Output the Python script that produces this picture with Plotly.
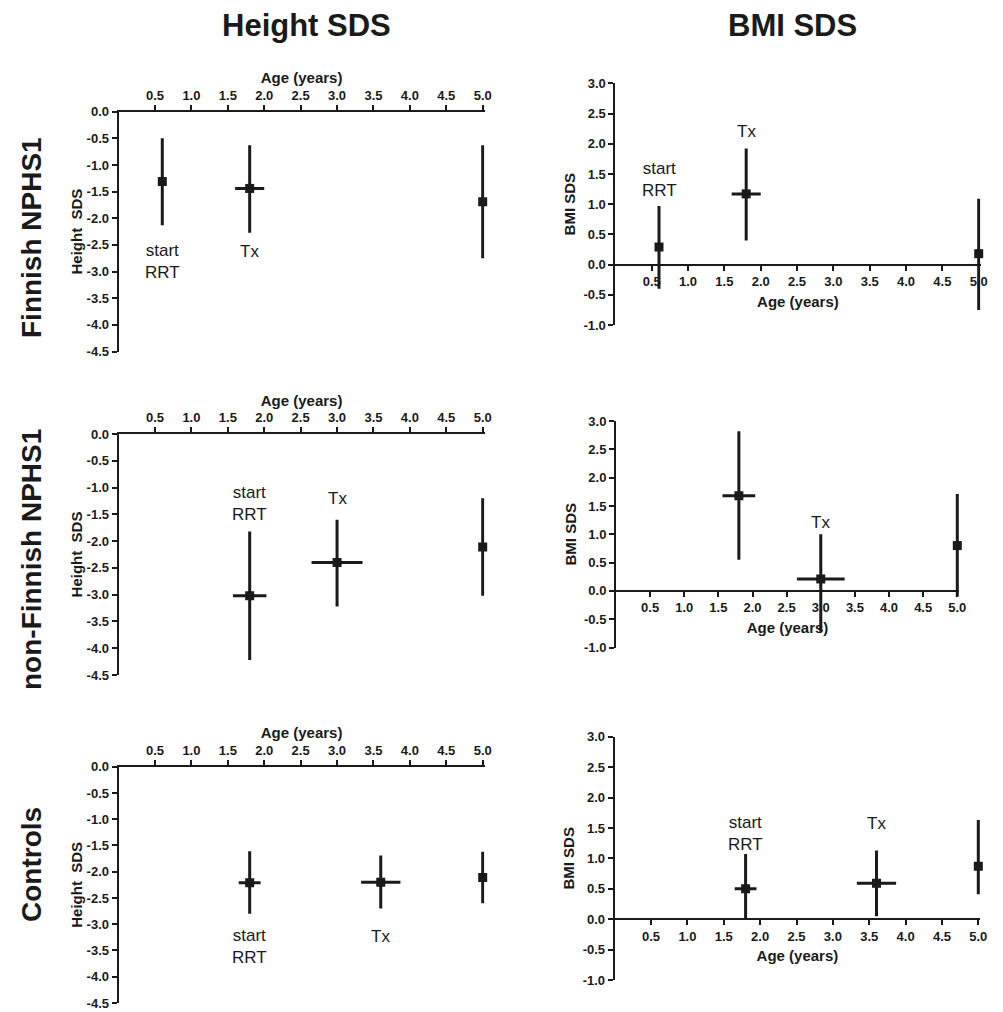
import plotly.graph_objects as go

REF_W, REF_H = 1003, 1012
OFF = 8  # default page body margin
W, H = REF_W - OFF, REF_H - OFF
FONT = "Liberation Sans, Arial, Helvetica, sans-serif"
INK = "#1a1a1a"

# ---------------- data ----------------
row_names = ["Finnish NPHS1", "non-Finnish NPHS1", "Controls"]
col_names = ["Height SDS", "BMI SDS"]
point_labels = ["start<br>RRT", "Tx"]

ages_finnish = [0.6, 1.8, 5.0]
ages_nonfinnish = [1.8, 3.0, 5.0]
ages_controls = [1.8, 3.6, 5.0]

age_sd_finnish = [0.0, 0.2, 0.0]
age_sd_nonfinnish_h = [0.23, 0.35, 0.0]
age_sd_nonfinnish_b = [0.24, 0.35, 0.0]
age_sd_controls = [0.15, 0.27, 0.0]

height_finnish_mean = [-1.31, -1.44, -1.69]
height_finnish_upper = [-0.50, -0.63, -0.63]
height_finnish_lower = [-2.13, -2.27, -2.75]

bmi_finnish_mean = [0.29, 1.17, 0.18]
bmi_finnish_upper = [0.97, 1.92, 1.09]
bmi_finnish_lower = [-0.40, 0.40, -0.75]

height_nonfinnish_mean = [-3.02, -2.40, -2.11]
height_nonfinnish_upper = [-1.82, -1.60, -1.20]
height_nonfinnish_lower = [-4.22, -3.22, -3.02]

bmi_nonfinnish_mean = [1.68, 0.21, 0.80]
bmi_nonfinnish_upper = [2.82, 1.00, 1.71]
bmi_nonfinnish_lower = [0.55, -0.72, -0.10]

height_controls_mean = [-2.21, -2.20, -2.11]
height_controls_upper = [-1.61, -1.69, -1.62]
height_controls_lower = [-2.80, -2.70, -2.60]

bmi_controls_mean = [0.50, 0.59, 0.87]
bmi_controls_upper = [1.07, 1.13, 1.63]
bmi_controls_lower = [0.00, 0.05, 0.41]

age_tickvals = [0.5, 1.0, 1.5, 2.0, 2.5, 3.0, 3.5, 4.0, 4.5, 5.0]
age_ticktext = ["0.5", "1.0", "1.5", "2.0", "2.5", "3.0", "3.5", "4.0", "4.5", "5.0"]
height_tickvals = [0.0, -0.5, -1.0, -1.5, -2.0, -2.5, -3.0, -3.5, -4.0, -4.5]
height_ticktext = ["0.0", "-0.5", "-1.0", "-1.5", "-2.0", "-2.5", "-3.0", "-3.5", "-4.0", "-4.5"]
bmi_tickvals = [3.0, 2.5, 2.0, 1.5, 1.0, 0.5, 0.0, -0.5, -1.0]
bmi_ticktext = ["3.0", "2.5", "2.0", "1.5", "1.0", "0.5", "0.0", "-0.5", "-1.0"]

AGE_MAX = 5.0
AGE_PAD = 0.025  # room so the bars at 5.0 are not clipped

# ---------------- layout of panels (reference pixel boxes: x at age 0 and 5, y top/bottom) ----------------
panels = [
    dict(kind="height", x=ages_finnish, xsd=age_sd_finnish, m=height_finnish_mean,
         up=height_finnish_upper, lo=height_finnish_lower,
         px=(118.6, 482.7), py=(111.7, 351.5), lab=[(0.6, -2.82), (1.8, -2.63)]),
    dict(kind="bmi", x=ages_finnish, xsd=age_sd_finnish, m=bmi_finnish_mean,
         up=bmi_finnish_upper, lo=bmi_finnish_lower,
         px=(615.4, 978.7), py=(83.3, 325.0), lab=[(0.6, 1.40), (1.8, 2.20)]),
    dict(kind="height", x=ages_nonfinnish, xsd=age_sd_nonfinnish_h, m=height_nonfinnish_mean,
         up=height_nonfinnish_upper, lo=height_nonfinnish_lower,
         px=(118.6, 482.7), py=(434.0, 675.0), lab=[(1.8, -1.30), (3.0, -1.20)]),
    dict(kind="bmi", x=ages_nonfinnish, xsd=age_sd_nonfinnish_b, m=bmi_nonfinnish_mean,
         up=bmi_nonfinnish_upper, lo=bmi_nonfinnish_lower,
         px=(616.0, 957.3), py=(421.0, 647.5), lab=[(1.8, 3.15), (3.0, 1.20)]),
    dict(kind="height", x=ages_controls, xsd=age_sd_controls, m=height_controls_mean,
         up=height_controls_upper, lo=height_controls_lower,
         px=(118.6, 482.7), py=(766.7, 1003.0), lab=[(1.8, -3.42), (3.6, -3.23)]),
    dict(kind="bmi", x=ages_controls, xsd=age_sd_controls, m=bmi_controls_mean,
         up=bmi_controls_upper, lo=bmi_controls_lower,
         px=(614.7, 978.3), py=(736.7, 980.0), lab=[(1.8, 1.41), (3.6, 1.58)]),
]

fig = go.Figure()
layout = dict(
    width=W, height=H, autosize=False,
    margin=dict(l=0, r=0, t=0, b=0),
    paper_bgcolor="white", plot_bgcolor="white",
    showlegend=False,
    font=dict(family=FONT, color=INK),
)
annotations = []

tickfont = dict(family=FONT, size=13, color=INK, weight="bold")
titlefont = dict(family=FONT, size=15, color=INK, weight="bold")


def fx(px):
    return (px - OFF) / W


def fy(py):
    return 1 - (py - OFF) / H


for i, p in enumerate(panels, start=1):
    xa = "x" if i == 1 else f"x{i}"
    ya = "y" if i == 1 else f"y{i}"
    x0, x5 = p["px"]
    scale = (x5 - x0) / AGE_MAX
    xd = [fx(x0), fx(x5 + AGE_PAD * scale)]
    yd = [fy(p["py"][1]), fy(p["py"][0])]

    fig.add_trace(go.Scatter(
        x=p["x"], y=p["m"], xaxis=xa, yaxis=ya, mode="markers",
        marker=dict(symbol="square", size=9, color=INK),
        error_y=dict(type="data", symmetric=False,
                     array=[u - m for u, m in zip(p["up"], p["m"])],
                     arrayminus=[m - l for m, l in zip(p["m"], p["lo"])],
                     thickness=3, width=0, color=INK),
        error_x=dict(type="data", array=p["xsd"], thickness=3, width=0, color=INK),
        cliponaxis=False, hoverinfo="skip",
    ))

    common_x = dict(
        domain=xd, range=[0, AGE_MAX + AGE_PAD], showgrid=False, zeroline=False,
        showline=True, linewidth=2, linecolor=INK,
        ticks="outside", ticklen=5, tickwidth=2, tickcolor=INK,
        tickvals=age_tickvals, ticktext=age_ticktext, tickfont=tickfont,
        automargin=False, fixedrange=True, ticklabeloverflow="allow",
    )
    common_y = dict(
        domain=yd, showgrid=False, zeroline=False,
        showline=True, linewidth=2, linecolor=INK,
        ticks="outside", ticklen=5, tickwidth=2, tickcolor=INK,
        tickfont=tickfont, anchor=xa, automargin=False, fixedrange=True,
        ticklabeloverflow="allow",
    )
    if p["kind"] == "height":
        xaxis = dict(common_x, side="top", anchor=ya,
                     title=dict(text="Age (years)", font=titlefont, standoff=0))
        yaxis = dict(common_y, range=[-4.5, 0], tickvals=height_tickvals,
                     ticktext=height_ticktext,
                     title=dict(text="Height\u00a0 SDS", font=titlefont, standoff=0))
    else:
        pos = yd[0] + (yd[1] - yd[0]) * (0 - (-1)) / 4.0
        xaxis = dict(common_x, side="bottom", anchor="free", position=pos,
                     title=dict(text="Age (years)", font=titlefont, standoff=7))
        yaxis = dict(common_y, range=[-1, 3], tickvals=bmi_tickvals,
                     ticktext=bmi_ticktext,
                     title=dict(text="BMI SDS", font=titlefont, standoff=4))
    layout["xaxis" if i == 1 else f"xaxis{i}"] = xaxis
    layout["yaxis" if i == 1 else f"yaxis{i}"] = yaxis

    for (lx, ly), txt in zip(p["lab"], point_labels):
        annotations.append(dict(
            x=lx, y=ly, xref=xa, yref=ya, text=txt, showarrow=False,
            xanchor="center", yanchor="middle",
            font=dict(family=FONT, size=17, color=INK),
        ))

# column titles
for txt, cx in zip(col_names, [306, 792]):
    annotations.append(dict(
        x=fx(cx), y=fy(26), xref="paper", yref="paper", text=txt,
        showarrow=False, xanchor="center", yanchor="middle",
        font=dict(family=FONT, size=31, color=INK, weight="bold"),
    ))
# row titles
for txt, cy in zip(row_names, [238, 560, 865]):
    annotations.append(dict(
        x=fx(31), y=fy(cy), xref="paper", yref="paper", text=txt,
        showarrow=False, xanchor="center", yanchor="middle", textangle=-90,
        font=dict(family=FONT, size=28, color=INK, weight="bold"),
    ))

layout["annotations"] = annotations
fig.update_layout(**layout)
fig.write_html("out.html")
